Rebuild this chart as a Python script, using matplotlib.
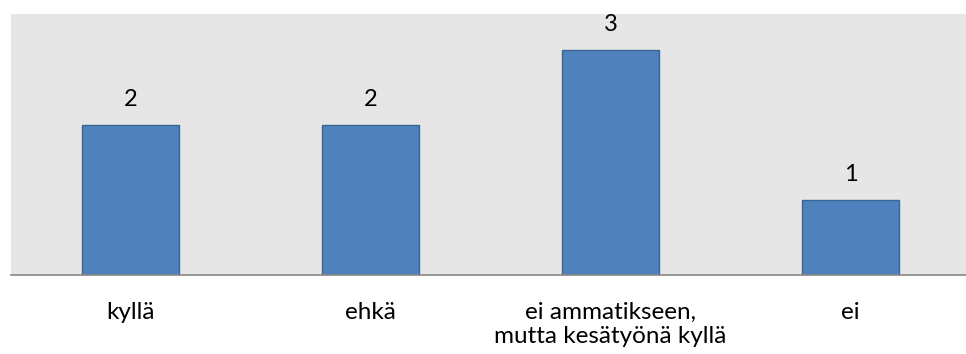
import matplotlib.pyplot as plt

# vastaukset
categories = ["kyllä", "ehkä", "ei ammatikseen,\nmutta kesätyönä kyllä", "ei"]
counts = [2, 2, 3, 1]

plt.rcParams['font.family'] = ['Lato', 'DejaVu Sans']

fig = plt.figure(figsize=(9.66, 3.54), dpi=100)
ax = fig.add_axes([10.5 / 966, (354 - 275) / 354, 960 / 966, 261 / 354])
ax.set_facecolor('#E6E6E6')

x = list(range(len(categories)))
bars = ax.bar(x, counts, width=0.405, color='#4F81BD', edgecolor='#3A6496', linewidth=1.0)

for b, v in zip(bars, counts):
    ax.annotate(str(v), (b.get_x() + b.get_width() / 2, v), xytext=(0, 10.5),
                textcoords='offset points', ha='center', va='bottom', fontsize=17)

ax.set_xlim(-0.5, len(categories) - 0.5)
ax.set_ylim(0, 3.48)
ax.set_xticks(x)
ax.set_xticklabels(categories, fontsize=17.5, linespacing=1.2)
ax.tick_params(axis='x', length=0, pad=19.5)
ax.set_yticks([])

for s in ['top', 'right', 'left']:
    ax.spines[s].set_visible(False)
ax.spines['bottom'].set_color('#868686')
ax.spines['bottom'].set_linewidth(1.2)

fig.savefig('out.png', dpi=100)
